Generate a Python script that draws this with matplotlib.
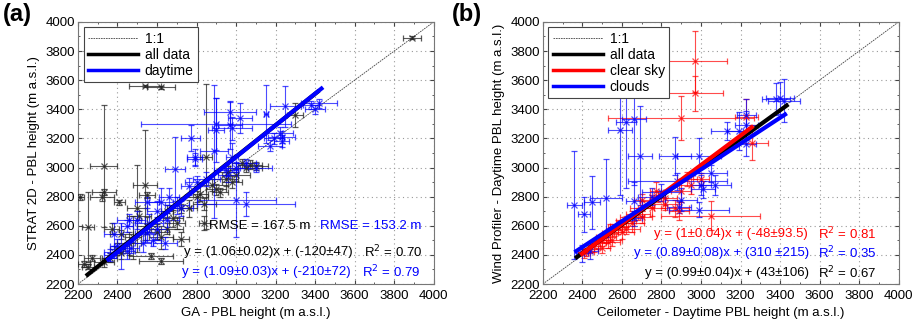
import numpy as np
import matplotlib
matplotlib.use('Agg')
import matplotlib.pyplot as plt
from matplotlib.ticker import MultipleLocator

plt.rcParams['font.family'] = ['Liberation Sans', 'DejaVu Sans']

# ---- panel (a): STRAT 2D vs GA ----
a_all_x  = [3890, 2540, 2620, 2330, 2330, 2320, 2210, 2410, 2250, 2370, 2540, 2550, 2850, 2840, 2500, 2510,
            2420, 2620, 2570, 2230, 2250, 2270, 2330, 2720, 3300, 2880, 2950, 3000, 3050, 3100, 2900, 2920,
            2960, 3030, 2650, 2600, 2700, 2460, 2400, 2480, 2550, 2620, 2680, 2760, 2420, 2360, 2820, 3070,
            2980, 2840, 2800, 2720, 2650]
a_all_y  = [3890, 3560, 3550, 3010, 2830, 2800, 2800, 2760, 2590, 2580, 2880, 2810, 3075, 2750, 2720, 2670,
            2540, 2360, 2390, 2340, 2320, 2380, 2350, 2510, 3360, 2880, 2920, 2950, 3000, 3010, 2850, 2830,
            2970, 3030, 2580, 2560, 2620, 2480, 2440, 2520, 2600, 2520, 2650, 2720, 2410, 2380, 2820, 3020,
            2900, 2620, 2800, 2720, 2700]
a_all_xe = [45, 80, 70, 70, 60, 60, 20, 30, 30, 40, 60, 40, 30, 60, 50, 60,
            60, 110, 110, 30, 30, 40, 50, 40, 40, 80, 60, 70, 80, 60, 50, 40,
            50, 50, 80, 60, 40, 60, 40, 40, 50, 60, 50, 40, 40, 40, 40, 60,
            50, 30, 60, 50, 30]
a_all_ye = [10, 10, 10, 420, 20, 30, 20, 20, 240, 40, 380, 20, 500, 40, 300, 30,
            30, 20, 20, 20, 20, 20, 30, 50, 80, 40, 50, 40, 30, 30, 40, 30,
            40, 30, 40, 50, 40, 80, 40, 150, 60, 80, 60, 60, 40, 30, 50, 30,
            40, 50, 40, 30, 40]

a_day_x  = [3020, 2970, 2970, 2980, 2900, 2900, 3150, 3250, 3380, 3400, 3420, 2770, 2790, 2790, 2690, 2890,
            2980, 3220, 3230, 3190, 3230, 3170, 3000, 3050, 2800, 2850, 2760, 2620, 2660, 2550, 2600, 2700,
            2720, 2500, 2460, 2450, 2560, 2600, 2650, 2400, 2380, 2420, 2360, 2470, 2530, 2550, 2950, 3000,
            3050, 3100, 2960, 2580, 2450, 2640, 2380]
a_day_y  = [3340, 3380, 3290, 3270, 3300, 3260, 3370, 3420, 3430, 3400, 3440, 3200, 3060, 3070, 2990, 3110,
            3070, 3240, 3210, 3200, 3180, 3150, 2780, 2750, 2900, 2920, 2870, 2760, 2800, 2760, 2700, 2740,
            2720, 2640, 2640, 2600, 2620, 2580, 2640, 2460, 2420, 2460, 2400, 2450, 2480, 2550, 2980, 3000,
            3030, 3000, 2950, 2500, 2430, 2480, 2540]
a_day_xe = [60, 130, 60, 100, 380, 40, 10, 80, 40, 50, 90, 50, 40, 40, 50, 70,
            30, 70, 70, 50, 40, 60, 200, 250, 60, 70, 40, 60, 50, 60, 50, 60,
            60, 40, 60, 30, 70, 50, 60, 40, 50, 40, 30, 40, 40, 60, 60, 60,
            50, 80, 50, 40, 40, 60, 50]
a_day_ye = [100, 80, 160, 80, 180, 220, 200, 140, 30, 30, 30, 90, 40, 60, 220, 460,
            100, 40, 40, 40, 40, 40, 260, 80, 40, 50, 60, 100, 60, 40, 70, 60,
            50, 60, 40, 40, 60, 80, 50, 50, 40, 160, 40, 40, 60, 60, 40, 30,
            30, 30, 50, 40, 60, 40, 80]

# fit lines as drawn: (x0, x1), (y0, y1)
a_fit_all_x = [2240, 3420]
a_fit_all_y = [2255, 3528]
a_fit_day_x = [2345, 3440]
a_fit_day_y = [2360, 3551]

# ---- panel (b): Wind profiler vs ceilometer ----
b_clear_x  = [2970, 2970, 2900, 3260, 3230, 3050, 2900, 2870, 2890, 2770, 2820, 2750, 2700, 2680, 2650, 2620,
              2600, 2580, 2560, 2540, 2520, 2500, 2480, 2460, 2440, 2420, 2410, 2500, 2550, 2600, 2650, 2700,
              2750, 2780, 2820, 2930, 2950, 3000, 2700, 2620, 2530]
b_clear_y  = [3730, 3510, 3340, 3170, 3350, 2670, 2840, 2720, 2700, 2840, 2750, 2770, 2720, 2680, 2660, 2630,
              2600, 2590, 2570, 2550, 2520, 2500, 2480, 2460, 2440, 2420, 2410, 2450, 2500, 2560, 2620, 2660,
              2720, 2800, 2790, 2920, 2880, 2920, 2780, 2580, 2490]
b_clear_xe = [160, 140, 370, 80, 60, 250, 50, 70, 50, 30, 80, 60, 60, 60, 60, 50,
              60, 50, 40, 40, 50, 40, 40, 30, 40, 40, 30, 40, 50, 60, 60, 50,
              70, 40, 60, 50, 60, 40, 40, 70, 60]
b_clear_ye = [210, 120, 150, 120, 120, 100, 80, 60, 60, 60, 40, 40, 50, 40, 40, 40,
              40, 50, 40, 60, 40, 40, 40, 40, 30, 30, 30, 40, 40, 50, 60, 40,
              50, 40, 50, 50, 60, 40, 40, 40, 40]

b_cloud_x  = [2360, 2410, 2450, 2520, 2590, 2620, 2660, 2690, 2870, 2990, 2660, 3400, 3420, 3380, 3230, 3230,
              3230, 3190, 3130, 2990, 3050, 3070, 3010, 3000, 2900, 2890, 2440, 2400, 2800, 2750, 2880, 2660]
b_cloud_y  = [2740, 2680, 2760, 2790, 3260, 3310, 3330, 3080, 3080, 3080, 2770, 3480, 3460, 3470, 3360, 3160,
              3290, 3250, 3250, 2710, 2960, 2880, 2850, 2880, 2780, 2730, 2430, 2410, 2830, 2800, 2905, 2650]
b_cloud_xe = [40, 30, 40, 80, 60, 50, 60, 60, 80, 110, 40, 70, 80, 70, 50, 50,
              60, 60, 80, 150, 80, 80, 60, 50, 80, 60, 40, 30, 100, 70, 250, 40]
b_cloud_ye = [370, 120, 180, 270, 450, 450, 450, 340, 130, 120, 130, 110, 150, 110, 110, 80,
              100, 130, 60, 50, 60, 70, 60, 70, 80, 40, 60, 60, 60, 60, 60, 50]

b_fit_all_x   = [2363, 3442]
b_fit_all_y   = [2376, 3434]
b_fit_clear_x = [2389, 3265]
b_fit_clear_y = [2399, 3285]
b_fit_cloud_x = [2360, 3434]
b_fit_cloud_y = [2418, 3372]

BLUE = (0, 0, 1)
RED = (1, 0, 0)
FS = 9.5

fig = plt.figure(figsize=(9.17, 3.22), dpi=100)
axa = fig.add_axes([0.085, 0.118, 0.388, 0.814])
axb = fig.add_axes([0.592, 0.118, 0.388, 0.814])


def style_axes(ax):
    ax.set_xlim(2200, 4000)
    ax.set_ylim(2200, 4000)
    ax.xaxis.set_major_locator(MultipleLocator(200))
    ax.yaxis.set_major_locator(MultipleLocator(200))
    ax.xaxis.set_minor_locator(MultipleLocator(100))
    ax.yaxis.set_minor_locator(MultipleLocator(100))
    ax.tick_params(which='both', direction='in', top=True, right=True, labelsize=FS, color='#444444')
    ax.tick_params(axis='x', pad=4)
    ax.tick_params(axis='y', pad=2)
    ax.tick_params(which='major', length=3)
    ax.tick_params(which='minor', length=1.5)
    ax.grid(True, which='major', linestyle=(0, (1, 3)), color='#999999', linewidth=0.8)
    for s in ax.spines.values():
        s.set_color('#777777')
        s.set_linewidth(0.8)


def fit_line(ax, xs, ys, color, lw=3):
    ax.plot(xs, ys, color=color, lw=lw, solid_capstyle='butt', zorder=5)


def ebar(ax, x, y, xe, ye, color, alpha):
    ax.errorbar(x, y, xerr=xe, yerr=ye, fmt='x', color=color, ms=4, mew=0.9,
                ecolor=color, elinewidth=0.8, capsize=2, capthick=0.8, alpha=alpha, zorder=3)


# ---- (a) ----
style_axes(axa)
one, = axa.plot([2200, 4000], [2200, 4000], color='#444444', lw=0.6, ls=(0, (2, 1)), zorder=2)
ebar(axa, a_all_x, a_all_y, a_all_xe, a_all_ye, '#222222', 0.75)
ebar(axa, a_day_x, a_day_y, a_day_xe, a_day_ye, BLUE, 0.7)
fit_line(axa, a_fit_all_x, a_fit_all_y, 'black')
fit_line(axa, a_fit_day_x, a_fit_day_y, BLUE)
h_all = plt.Line2D([], [], color='black', lw=2.5)
h_day = plt.Line2D([], [], color=BLUE, lw=2.5)
leg = axa.legend([one, h_all, h_day], ['1:1', 'all data', 'daytime'], loc='upper left', fontsize=10,
                 fancybox=False, framealpha=1, edgecolor='#444444', handlelength=3.6,
                 borderpad=0.3, labelspacing=0.15, handletextpad=0.5, borderaxespad=0.4)
leg.set_zorder(10)
leg.get_frame().set_linewidth(0.8)
axa.text(2862, 2595, 'RMSE = 167.5 m', fontsize=FS, va='center', ha='left', color='black')
axa.text(3424, 2595, 'RMSE = 153.2 m', fontsize=FS, va='center', ha='left', color=BLUE)
axa.text(3590, 2420, 'y = (1.06\u00b10.02)x + (-120\u00b147)', fontsize=FS, va='center', ha='right', color='black')
axa.text(3645, 2420, 'R$^2$ = 0.70', fontsize=FS, va='center', ha='left', color='black')
axa.text(3578, 2280, 'y = (1.09\u00b10.03)x + (-210\u00b172)', fontsize=FS, va='center', ha='right', color=BLUE)
axa.text(3635, 2280, 'R$^2$ = 0.79', fontsize=FS, va='center', ha='left', color=BLUE)
axa.set_xlabel('GA - PBL height (m a.s.l.)', fontsize=FS, labelpad=4)
axa.set_ylabel('STRAT 2D - PBL height (m a.s.l.)', fontsize=FS, labelpad=4)
fig.text(0.003, 0.955, '(a)', fontsize=17, fontweight='bold', va='center', ha='left')

# ---- (b) ----
style_axes(axb)
one_b, = axb.plot([2200, 4000], [2200, 4000], color='#444444', lw=0.6, ls=(0, (2, 1)), zorder=2)
ebar(axb, b_clear_x, b_clear_y, b_clear_xe, b_clear_ye, RED, 0.7)
ebar(axb, b_cloud_x, b_cloud_y, b_cloud_xe, b_cloud_ye, BLUE, 0.7)
fit_line(axb, b_fit_all_x, b_fit_all_y, 'black')
fit_line(axb, b_fit_clear_x, b_fit_clear_y, RED)
fit_line(axb, b_fit_cloud_x, b_fit_cloud_y, BLUE)
h_k = plt.Line2D([], [], color='black', lw=2.5)
h_r = plt.Line2D([], [], color=RED, lw=2.5)
h_b = plt.Line2D([], [], color=BLUE, lw=2.5)
legb = axb.legend([one_b, h_k, h_r, h_b], ['1:1', 'all data', 'clear sky', 'clouds'], loc='upper left',
                  fontsize=10, fancybox=False, framealpha=1, edgecolor='#444444', handlelength=3.6,
                  borderpad=0.3, labelspacing=0.15, handletextpad=0.5, borderaxespad=0.4)
legb.set_zorder(10)
legb.get_frame().set_linewidth(0.8)
axb.text(3540, 2541, 'y = (1\u00b10.04)x + (-48\u00b193.5)', fontsize=FS, va='center', ha='right', color=RED)
axb.text(3590, 2541, 'R$^2$ = 0.81', fontsize=FS, va='center', ha='left', color=RED)
axb.text(3545, 2411, 'y = (0.89\u00b10.08)x + (310 \u00b1215)', fontsize=FS, va='center', ha='right', color=BLUE)
axb.text(3590, 2411, 'R$^2$ = 0.35', fontsize=FS, va='center', ha='left', color=BLUE)
axb.text(3545, 2273, 'y = (0.99\u00b10.04)x + (43\u00b1106)', fontsize=FS, va='center', ha='right', color='black')
axb.text(3590, 2273, 'R$^2$ = 0.67', fontsize=FS, va='center', ha='left', color='black')
axb.set_xlabel('Ceilometer - Daytime PBL height (m a.s.l.)', fontsize=FS, labelpad=4)
axb.set_ylabel('Wind Profiler - Daytime PBL height (m a.s.l.)', fontsize=FS, labelpad=4)
fig.text(0.493, 0.955, '(b)', fontsize=17, fontweight='bold', va='center', ha='left')

fig.savefig('out.png', dpi=100)
